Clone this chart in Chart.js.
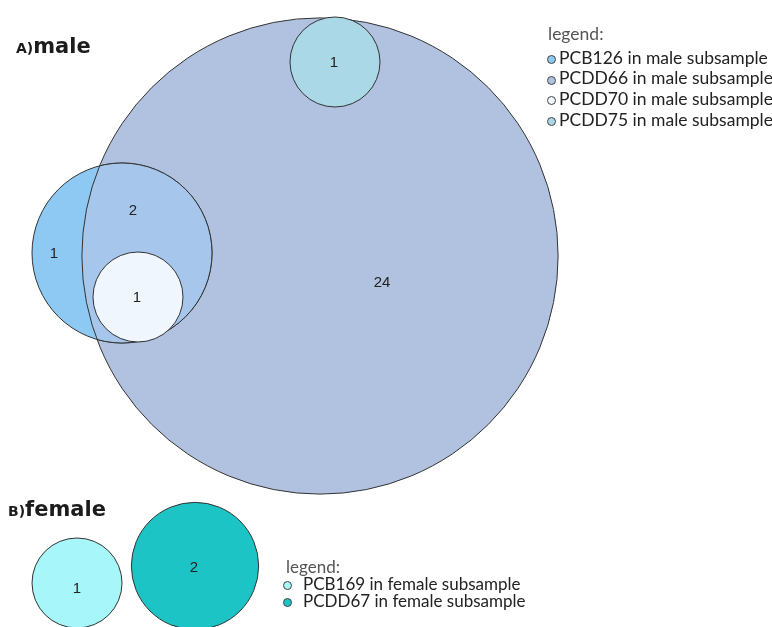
<!DOCTYPE html>
<html>
<head>
<meta charset="utf-8">
<title>Congener overlap by subsample</title>
<script src="https://cdn.jsdelivr.net/npm/chart.js@4/dist/chart.umd.min.js"></script>
<style>
  html, body { margin: 0; padding: 0; background: #fff; }
  .stage { position: relative; width: 772px; height: 627px; overflow: hidden; }
  #venn { position: absolute; left: 0; top: 0; }
  .panel-title { position: absolute; font-family: "DejaVu Sans", sans-serif; font-weight: bold;
                 font-size: 21px; line-height: 21px; color: #1c1c1c; white-space: nowrap; }
  .panel-title small { font-size: 14px; }
  .legend { position: absolute; font-family: Lato, "Open Sans", sans-serif;
            color: #222; white-space: nowrap; }
  .legend .head { color: #555; }
  .legend .row { position: relative; }
  .legend .dot { position: absolute; width: 7px; height: 7px; border: 1px solid #444; border-radius: 50%; }
</style>
</head>
<body>
<div class="stage">
  <canvas id="venn" width="772" height="627"></canvas>
  <div class="panel-title" style="left:16px; top:36px"><small>A)</small>male</div>
  <div class="panel-title" style="left:8px; top:499px"><small>B)</small>female</div>
  <div class="legend" id="legendMale"></div>
  <div class="legend" id="legendFemale"></div>
</div>
<script>
// ── Data ───────────────────────────────────────────────────
// set sizes = number of samples with the congener detected
const maleSets     = ['PCB126', 'PCDD66', 'PCDD70', 'PCDD75'];
const maleSizes    = [4, 28, 1, 1];
const femaleSets   = ['PCB169', 'PCDD67'];
const femaleSizes  = [1, 2];

// counts written inside each area
const maleCounts   = [1, 2, 24, 1, 1];   // PCB126 only, PCB126+PCDD66, PCDD66 only, PCDD70, PCDD75
const femaleCounts = [1, 2];

// ── Layout (axis units, 1 unit = 1px) ──────────────────────
const UNIT_R         = 45;               // radius of a one-sample set
const maleCentres    = [[122, 253], [320, 256], [138, 297], [335, 62]];
const maleLabelPos   = [[54, 254], [133, 211], [382, 283], [137, 298], [334, 63]];
const femaleCentres  = [[77, 583], [195, 566]];
const femaleLabelPos = [[77, 589], [194, 568]];

// ── Styles ─────────────────────────────────────────────────
const maleColors   = ['#8ec9f3', '#b0c2e0', '#eff6fd', '#aad8e6'];
const femaleColors = ['#a6f6fa', '#1cc4c6'];
const overlapColor = '#a6c6ec';
const edgeColor    = '#333';
const maleOrder    = [3, 4, 2, 1];   // lower order is painted on top

function makeSet(label, size, centre, color, order) {
  return {
    label,
    data: [{ x: centre[0], y: centre[1], size: UNIT_R * Math.sqrt(size) }],
    backgroundColor: color,
    borderColor: edgeColor,
    borderWidth: 1,
    hoverRadius: 0,
    order,
    clip: false
  };
}

const datasets = [
  ...maleSets.map((s, i) => makeSet(s, maleSizes[i], maleCentres[i], maleColors[i], maleOrder[i])),
  ...femaleSets.map((s, i) => makeSet(s, femaleSizes[i], femaleCentres[i], femaleColors[i], 1))
];

// ── PCB126 ∩ PCDD66 gets its own tint ─────────────────────
const overlapPlugin = {
  id: 'overlap',
  afterDatasetDraw(chart, args) {
    if (args.index !== 0) return;
    const a = chart.getDatasetMeta(0).data[0];
    const b = chart.getDatasetMeta(1).data[0];
    const ra = a.options.radius, rb = b.options.radius;
    if (!(ra > 0 && rb > 0)) return;
    const ctx = chart.ctx;
    ctx.save();
    ctx.lineWidth = 1;
    ctx.strokeStyle = edgeColor;
    ctx.beginPath(); ctx.arc(b.x, b.y, rb, 0, Math.PI * 2); ctx.clip();
    ctx.beginPath(); ctx.arc(a.x, a.y, ra, 0, Math.PI * 2);
    ctx.fillStyle = overlapColor;
    ctx.fill();
    ctx.stroke();
    ctx.restore();
    // PCDD66 edge running through PCB126
    ctx.save();
    ctx.lineWidth = 1;
    ctx.strokeStyle = edgeColor;
    ctx.beginPath(); ctx.arc(a.x, a.y, ra, 0, Math.PI * 2); ctx.clip();
    ctx.beginPath(); ctx.arc(b.x, b.y, rb, 0, Math.PI * 2);
    ctx.stroke();
    ctx.restore();
  }
};

// ── Counts inside the areas ────────────────────────────────
const countsPlugin = {
  id: 'counts',
  afterDatasetsDraw(chart) {
    const { ctx, scales: { x, y } } = chart;
    ctx.save();
    ctx.font = '15px "Liberation Sans", Arial, sans-serif';
    ctx.fillStyle = '#222';
    ctx.textAlign = 'center';
    ctx.textBaseline = 'middle';
    const put = (n, p) => ctx.fillText(String(n), x.getPixelForValue(p[0]), y.getPixelForValue(p[1]));
    maleCounts.forEach((n, i) => put(n, maleLabelPos[i]));
    femaleCounts.forEach((n, i) => put(n, femaleLabelPos[i]));
    ctx.restore();
  }
};

const chart = new Chart(document.getElementById('venn'), {
  type: 'bubble',
  data: { datasets },
  options: {
    responsive: false,
    animation: false,
    events: [],
    layout: { padding: 0, autoPadding: false },
    scales: {
      x: { type: 'linear', min: 0, max: 772, display: false },
      y: { type: 'linear', min: 0, max: 627, reverse: true, display: false }
    },
    plugins: { legend: { display: false }, tooltip: { enabled: false } }
  },
  plugins: [overlapPlugin, countsPlugin]
});

// bubble r is in pixels: convert each set radius through the x scale
function fitRadii(ch) {
  const s = ch.scales.x;
  ch.data.datasets.forEach(ds => ds.data.forEach(p => {
    p.r = s.getPixelForValue(p.x + p.size) - s.getPixelForValue(p.x);
  }));
  ch.update();
}
fitRadii(chart);

// ── Legends ────────────────────────────────────────────────
function buildLegend(id, sets, colors, group, box) {
  const el = document.getElementById(id);
  el.style.left = box.left + 'px';
  el.style.top = box.top + 'px';
  el.style.fontSize = box.font + 'px';
  el.style.lineHeight = box.line + 'px';
  let html = `<div class="head" style="margin-bottom:${box.gap}px">legend:</div>`;
  sets.forEach((s, i) => {
    html += `<div class="row" style="padding-left:${box.indent}px">` +
      `<span class="dot" style="left:${box.dot}px; top:${box.line / 2 - 3}px; background:${colors[i]}"></span>` +
      `${s} in ${group} subsample</div>`;
  });
  el.innerHTML = html;
}

buildLegend('legendMale', maleSets, maleColors, 'male',
  { left: 548, top: 24.4, font: 17.5, line: 20.7, gap: 2.6, indent: 11, dot: -1 });
buildLegend('legendFemale', femaleSets, femaleColors, 'female',
  { left: 286, top: 557.6, font: 17, line: 17, gap: 0.7, indent: 17, dot: -3 });
</script>
</body>
</html>
